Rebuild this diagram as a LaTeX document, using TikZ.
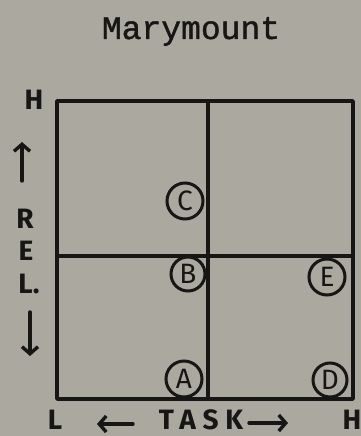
\documentclass[tikz,border=0pt]{standalone}
\usepackage{fontspec}
\usetikzlibrary{arrows.meta}
\newfontfamily\typew[FakeBold=1.2]{Liberation Mono}
\newfontfamily\hand{Fira Sans}
\definecolor{paper}{RGB}{170,168,159}
\definecolor{ink}{RGB}{22,22,20}
\begin{document}
\begin{tikzpicture}[x=1pt,y=-1pt,
  gridline/.style={draw=ink,line width=3.6pt,line cap=round,line join=round},
  handtxt/.style={text=ink,font=\hand\bfseries\fontsize{28}{29}\selectfont,inner sep=0pt},
  circled/.style={draw=ink,line width=3pt,circle,inner sep=0pt,text=ink,font=\hand\fontsize{28}{29}\selectfont},
  harrow/.style={draw=ink,line width=3.4pt,line cap=round,-{Straight Barb[length=7pt,width=16pt,line width=3.4pt]}}]
\fill[paper] (0,0) rectangle (361,436);
\useasboundingbox (0,0) rectangle (361,436);
% title
\node[text=ink,anchor=base,inner sep=0pt,font=\typew\fontsize{33}{34}\selectfont] (title) at (191,39) {Marymount};
% grid
\coordinate (tl) at (57,101);
\coordinate (br) at (353,399);
\coordinate (mt) at (208,101);
\coordinate (mb) at (208,399);
\coordinate (ml) at (57,256);
\coordinate (mr) at (353,256);
\draw[gridline] (tl) rectangle (br);
\draw[gridline] (mt) -- (mb);
\draw[gridline] (ml) -- (mr);
% axis labels
\node[handtxt] (hi1) at (34,100) {H};
\node[handtxt] (r) at (25,219) {R};
\node[handtxt] (e) at (26,251) {E};
\node[handtxt] (l) at (29,284) {L.};
\node[handtxt] (lo) at (55,420) {L};
\node[handtxt] (hi2) at (352,420) {H};
\node[handtxt,font=\hand\bfseries\fontsize{28}{29}\selectfont\addfontfeature{LetterSpace=24}] (task) at (201,420) {TASK};
\coordinate (ua1) at (22,181);
\coordinate (ua2) at (22,142);
\coordinate (da1) at (30,312);
\coordinate (da2) at (30,356);
\coordinate (la1) at (133,424);
\coordinate (la2) at (97,424);
\coordinate (ra1) at (249,423);
\coordinate (ra2) at (288,423);
\draw[harrow] (ua1) -- (ua2);
\draw[harrow] (da1) -- (da2);
\draw[harrow] (la1) -- (la2);
\draw[harrow] (ra1) -- (ra2);
% circled points
\node[circled,minimum size=36pt] (C) at (185,201) {C};
\node[circled,minimum size=34pt] (B) at (188,274) {B};
\node[circled,minimum size=36pt] (E) at (327,277) {E};
\node[circled,minimum size=36pt] (A) at (184,379) {A};
\node[circled,minimum size=34pt] (D) at (330,380) {D};
\end{tikzpicture}
\end{document}
